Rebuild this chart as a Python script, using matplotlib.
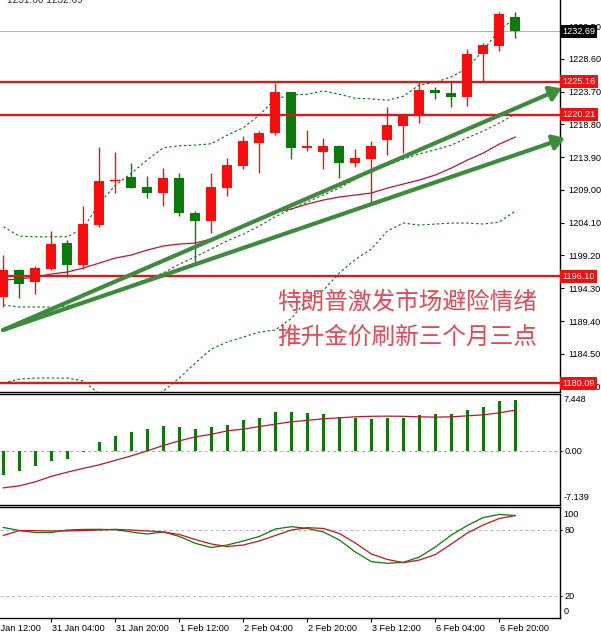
import matplotlib
matplotlib.use("Agg")
import matplotlib.pyplot as plt
import matplotlib.transforms as mtransforms
import numpy as np

# ---- data (XAUUSD H4) ----
opens = [1193.0, 1197.03, 1195.28, 1197.22, 1201.02, 1197.78, 1203.75, 1210.3, 1210.97, 1209.39,
         1208.58, 1210.73, 1205.5, 1204.4, 1209.24, 1212.57, 1216.06, 1217.46, 1223.59, 1215.26,
         1214.71, 1215.56, 1213.07, 1213.66, 1216.46, 1218.55, 1220.05, 1223.93, 1223.44, 1222.93,
         1229.27, 1230.56, 1234.89]
closes = [1197.03, 1194.93, 1197.28, 1200.91, 1197.78, 1203.9, 1210.38, 1210.45, 1209.33, 1208.58,
          1210.73, 1205.6, 1204.4, 1209.48, 1212.72, 1216.35, 1217.46, 1223.59, 1215.31, 1215.56,
          1215.56, 1213.07, 1213.77, 1215.56, 1218.7, 1220.05, 1223.93, 1223.44, 1222.93, 1229.31,
          1230.66, 1235.29, 1232.69]
highs = [1199.27, 1197.18, 1197.63, 1202.9, 1201.5, 1206.6, 1215.37, 1214.71, 1212.98, 1211.08,
         1212.32, 1211.57, 1205.85, 1211.57, 1213.72, 1217.06, 1217.85, 1225.02, 1223.7, 1217.95,
         1216.8, 1215.76, 1215.07, 1216.31, 1221.44, 1220.1, 1225.17, 1224.34, 1225.17, 1230.02,
         1230.91, 1235.59, 1235.59]
lows = [1191.5, 1192.84, 1193.4, 1197.0, 1196.03, 1197.13, 1203.45, 1208.58, 1209.24, 1207.84,
        1206.6, 1205.1, 1198.03, 1202.6, 1208.13, 1212.08, 1211.57, 1217.21, 1213.57, 1214.82,
        1212.08, 1210.82, 1212.38, 1207.09, 1214.22, 1214.47, 1219.05, 1222.54, 1221.44, 1221.59,
        1225.28, 1229.81, 1231.66]

band_upper = [1203.5, 1202.1, 1202.0, 1202.0, 1202.0, 1203.3, 1207.0, 1209.7, 1211.5, 1213.5,
              1215.3, 1215.6, 1215.7, 1215.9, 1217.2, 1218.3, 1220.2, 1222.6, 1223.2, 1223.3,
              1223.8, 1223.3, 1222.7, 1222.6, 1222.4, 1223.0, 1224.7, 1225.1, 1225.9, 1227.2,
              1229.9, 1232.9, 1234.7]
band_mid = [1191.8, 1191.5, 1191.5, 1191.5, 1191.65, 1192.1, 1193.0, 1193.9, 1194.8, 1195.7,
            1196.6, 1197.9, 1199.0, 1200.2, 1201.4, 1202.4, 1203.6, 1205.0, 1206.15, 1207.2,
            1208.25, 1209.3, 1210.6, 1211.8, 1212.7, 1213.6, 1214.4, 1215.0, 1215.7, 1216.8,
            1217.8, 1219.0, 1220.35]
band_lower = [1180.14, 1180.73, 1180.88, 1180.88, 1180.88, 1180.44, 1178.49, 1177.3, 1177.0, 1177.6,
              1178.94, 1180.88, 1183.13, 1185.22, 1186.27, 1187.01, 1187.76, 1188.06, 1189.8, 1192.7,
              1194.0, 1196.58, 1198.6, 1200.17, 1202.86, 1204.05, 1203.75, 1203.9, 1204.05, 1204.05,
              1203.9, 1204.2, 1205.85]
ma_red = [1195.53, 1195.68, 1195.98, 1196.43, 1196.73, 1197.33, 1198.07, 1198.82, 1199.27, 1200.02,
          1200.62, 1200.91, 1201.06, 1201.66, 1202.71, 1203.6, 1204.65, 1205.7, 1206.15, 1206.89,
          1207.49, 1207.94, 1208.24, 1208.54, 1209.28, 1209.88, 1210.48, 1211.23, 1212.27, 1213.47,
          1214.52, 1215.86, 1216.91]

levels = [1225.16, 1220.21, 1196.10, 1180.09]
last_price = 1232.69
header_bid = 1231.60
price_ticks = [1233.50, 1228.60, 1223.70, 1218.80, 1213.90, 1209.00, 1204.10, 1199.20,
               1194.30, 1189.40, 1184.50, 1179.60]

# trend arrows: shared start, two tips (bar index, price)
trend_start = (-0.02, 1188.06)
trend_tips = [(34.9, 1224.19), (35.1, 1216.76)]

macd_hist = [-3.16, -2.64, -2.06, -1.32, -1.05, -0.2, 1.10, 1.89, 2.42, 2.86,
             3.21, 3.08, 2.94, 3.08, 3.43, 4.0, 4.39, 5.18, 5.18, 5.0,
             4.88, 4.48, 4.26, 4.13, 4.26, 4.39, 4.74, 4.88, 4.88, 5.44,
             5.84, 6.5, 6.76]
macd_signal = [-4.88, -4.61, -4.08, -3.36, -2.81, -2.31, -1.84, -1.25, -0.66, 0.0,
               0.70, 1.32, 1.84, 2.17, 2.64, 2.86, 3.20, 3.52, 3.82, 4.02,
               4.22, 4.35, 4.48, 4.55, 4.57, 4.55, 4.48, 4.44, 4.48, 4.61,
               4.74, 5.01, 5.36]
macd_max, macd_min = 7.448, -7.139

stoch_k = [82.3, 79.5, 77.7, 77.7, 80.0, 80.5, 80.6, 80.2, 78.2, 76.3,
           78.2, 74.1, 67.8, 64.0, 66.3, 70.0, 74.1, 80.9, 83.0, 81.4,
           78.2, 70.9, 59.9, 51.1, 49.6, 50.5, 55.3, 64.5, 75.4, 84.1,
           91.4, 94.2, 93.2]
stoch_d = [75.0, 79.5, 79.4, 79.1, 79.1, 79.5, 80.0, 80.6, 80.0, 79.1,
           78.2, 75.9, 71.3, 67.2, 64.9, 66.3, 70.0, 75.0, 80.0, 82.1,
           81.4, 76.8, 68.1, 58.1, 53.1, 50.2, 52.6, 57.6, 67.2, 77.3,
           84.6, 90.5, 93.2]

time_tick_idx = [-1, 3, 7, 11, 15, 19, 23, 27, 31]
time_tick_labels = ["30 Jan 12:00", "31 Jan 04:00", "31 Jan 20:00", "1 Feb 12:00", "2 Feb 04:00",
                    "2 Feb 20:00", "3 Feb 12:00", "6 Feb 04:00", "6 Feb 20:00"]

note_lines = ["特朗普激发市场避险情绪", "推升金价刷新三个月三点"]

# ---- styling ----
UP = "#fb0d0d"
DOWN = "#0b7a0b"
LEVEL = "#d41c1c"
ARROW = "#3d8c3d"
FS = 6.6
plt.rcParams["font.family"] = ["Liberation Sans", "DejaVu Sans"]

W, H = 601, 635
fig = plt.figure(figsize=(W / 100, H / 100), dpi=100)
fig.patch.set_facecolor("white")


def px_axes(x0, y0, x1, y1):
    return fig.add_axes([x0 / W, 1 - y1 / H, (x1 - x0) / W, (y1 - y0) / H])


ax = px_axes(0, 0, 560, 392.3)
ax_macd = px_axes(0, 394.3, 560, 505)
ax_st = px_axes(0, 507.3, 560, 618.3)

x = np.arange(len(opens))
xlim = (-0.21, 34.79)

# ---- main price panel ----
o, c, h, l = map(np.array, (opens, closes, highs, lows))
col = np.where(c >= o, UP, DOWN)
ax.vlines(x, l, h, colors=col, lw=1.0, zorder=3)
body = np.where(np.abs(c - o) < 0.12, 0.12, c - o)
ax.bar(x, body, bottom=o, width=0.62, color=col, zorder=4)
ax.hlines(c[7], x[7] - 0.31, x[7] + 0.31, colors=UP, lw=1.0, zorder=4)

dash = (0, (2.2, 2.2))
ax.plot(x, band_upper, color="#136d13", lw=0.8, ls=dash, zorder=2)
ax.plot(x, band_mid, color="#136d13", lw=0.8, ls=dash, zorder=2)
ax.plot(x, band_lower, color="#136d13", lw=0.8, ls=dash, zorder=2)
ax.plot(x, ma_red, color="#c8102e", lw=0.9, zorder=2)

ax.axhline(last_price, color="#b4b4b4", lw=0.8, zorder=1)
for lv in levels:
    ax.axhline(lv, color=LEVEL, lw=1.7, zorder=5)

for tip in trend_tips:
    ax.annotate("", xy=tip, xytext=trend_start, annotation_clip=False,
                arrowprops=dict(arrowstyle="-|>,head_length=0.7,head_width=0.45",
                                lw=3.0, color=ARROW, shrinkA=0, shrinkB=0), zorder=6)

for k, line in enumerate(note_lines):
    ax.text(17.1, 1192.3 - k * 5.25, line, color="#ea4655", fontsize=17,
            family=["Noto Sans CJK SC", "DejaVu Sans"], ha="left", va="center", zorder=7)

ax.set_xlim(*xlim)
ax.set_ylim(1178.75, 1237.39)
ax.yaxis.tick_right()
ax.set_yticks(price_ticks)
ax.set_yticklabels([f"{v:.2f}" for v in price_ticks])
ax.tick_params(axis="y", labelsize=FS, length=3, pad=3)
ax.set_xticks([])
for s in ("left", "top"):
    ax.spines[s].set_visible(False)

ytr = mtransforms.blended_transform_factory(ax.transAxes, ax.transData)
for lv in levels:
    ax.text(1.004, lv, f"{lv:.2f}", transform=ytr, color="white", fontsize=FS,
            ha="left", va="center", clip_on=False, zorder=8,
            bbox=dict(boxstyle="square,pad=0.22", fc="#f20f0f", ec="none"))
ax.text(1.004, last_price, f"{last_price:.2f}", transform=ytr, color="white", fontsize=FS,
        ha="left", va="center", clip_on=False, zorder=8,
        bbox=dict(boxstyle="square,pad=0.22", fc="black", ec="none"))

fig.text(7 / W, 1.0, f"{header_bid:.2f} {last_price:.2f}", fontsize=FS + 0.6,
         ha="left", va="center", color="#333333")

# ---- MACD panel ----
ax_macd.bar(x, macd_hist, width=0.16, color=DOWN, zorder=3)
ax_macd.plot(x, macd_signal, color="#c8102e", lw=0.9, zorder=4)
ax_macd.axhline(0, color="#aaaaaa", lw=0.7, ls=(0, (3, 3)), zorder=1)
ax_macd.set_xlim(*xlim)
ax_macd.set_ylim(macd_min, macd_max)
ax_macd.set_xticks([])
ax_macd.yaxis.tick_right()
ax_macd.set_yticks([0])
ax_macd.set_yticklabels(["0.00"])
ax_macd.tick_params(axis="y", labelsize=FS, length=1.5, pad=1.5)
ax_macd.spines["left"].set_visible(False)
ytr_m = mtransforms.blended_transform_factory(ax_macd.transAxes, ax_macd.transData)
ax_macd.text(1.006, macd_max * 0.9, f"{macd_max:.3f}", transform=ytr_m, fontsize=FS,
             ha="left", va="center", clip_on=False)
ax_macd.text(1.006, macd_min * 0.87, f"{macd_min:.3f}", transform=ytr_m, fontsize=FS,
             ha="left", va="center", clip_on=False)

# ---- Stochastic panel ----
ax_st.plot(x, stoch_k, color="#0a7a0a", lw=0.9, zorder=3)
ax_st.plot(x, stoch_d, color="#d0101e", lw=0.9, zorder=4)
for lv in (80, 20):
    ax_st.axhline(lv, color="#b4b4b4", lw=0.7, ls=(0, (3, 3)), zorder=1)
ax_st.set_xlim(*xlim)
ax_st.set_ylim(-0.6, 100.7)
ax_st.yaxis.tick_right()
ax_st.set_yticks([80, 20])
ax_st.set_yticklabels(["80", "20"])
ax_st.tick_params(axis="y", labelsize=FS, length=1.5, pad=1.5)
ytr_s = mtransforms.blended_transform_factory(ax_st.transAxes, ax_st.transData)
ax_st.text(1.006, 94.4, "100", transform=ytr_s, fontsize=FS, ha="left", va="center", clip_on=False)
ax_st.text(1.006, 5.4, "0", transform=ytr_s, fontsize=FS, ha="left", va="center", clip_on=False)
ax_st.spines["left"].set_visible(False)

ax_st.set_xticks([t for t in time_tick_idx if t >= 0])
ax_st.set_xticklabels([])
ax_st.tick_params(axis="x", length=3, direction="out")
xtr = mtransforms.blended_transform_factory(ax_st.transData, ax_st.transAxes)
for t, lab in zip(time_tick_idx, time_tick_labels):
    ax_st.text(t + 0.07, -0.05, lab, transform=xtr, fontsize=FS, ha="left", va="top",
               clip_on=False)

for a in (ax, ax_macd, ax_st):
    for s in a.spines.values():
        s.set_linewidth(1.0)

fig.savefig("out.png", dpi=100, facecolor="white")
